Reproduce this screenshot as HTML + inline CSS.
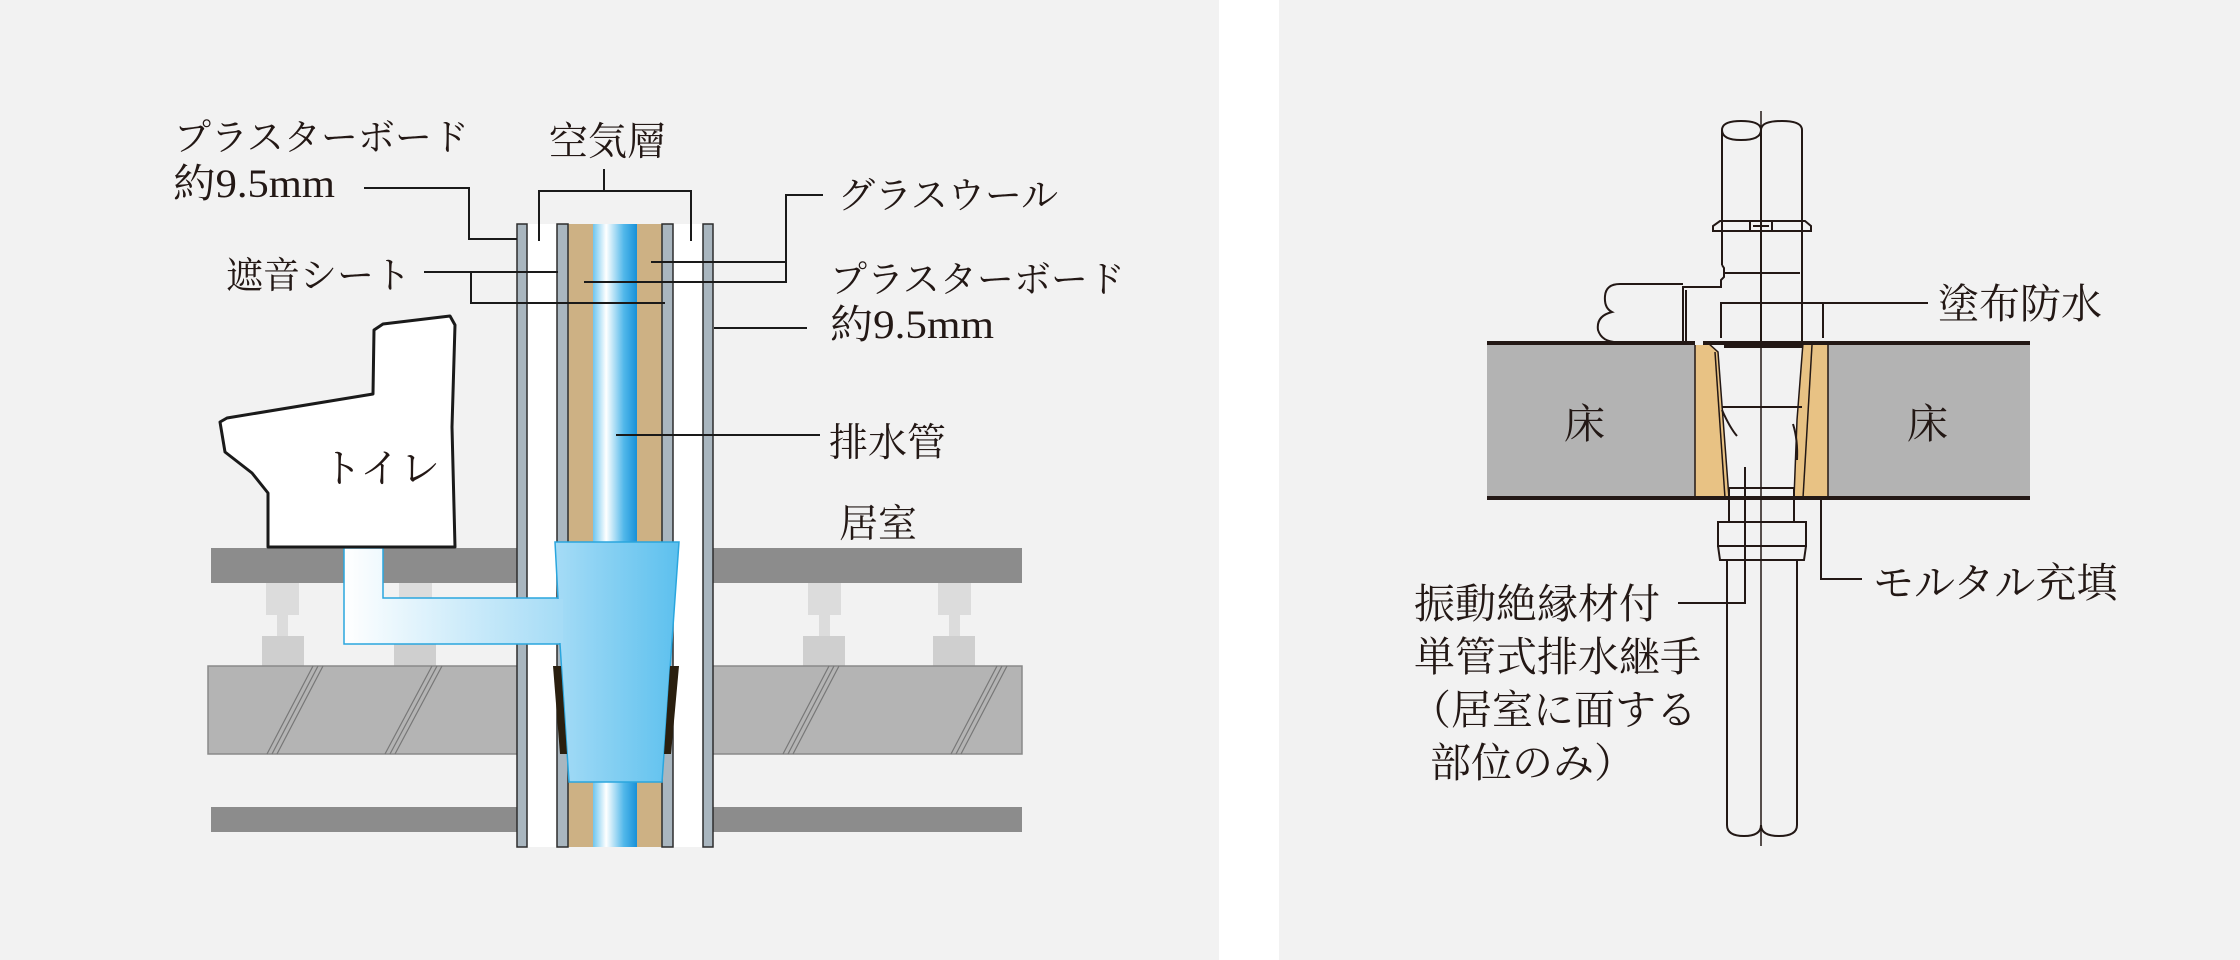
<!DOCTYPE html>
<html><head><meta charset="utf-8"><style>
html,body{margin:0;padding:0;background:#fff;}
svg{display:block;}
text{font-family:"Liberation Serif","Noto Serif CJK SC",serif;fill:#231815;}
</style></head><body>
<svg width="2240" height="960" viewBox="0 0 2240 960" xmlns="http://www.w3.org/2000/svg">
<defs>
<linearGradient id="pipe" x1="0" x2="1" y1="0" y2="0">
<stop offset="0" stop-color="#6ec6ee"/><stop offset="0.3" stop-color="#ffffff"/><stop offset="0.7" stop-color="#52b8ea"/><stop offset="1" stop-color="#1890d8"/></linearGradient>
<linearGradient id="fit" x1="0" x2="1" y1="0" y2="0">
<stop offset="0" stop-color="#a6dcf6"/><stop offset="1" stop-color="#5cc0ee"/></linearGradient>
<linearGradient id="br" x1="344" x2="560" y1="0" y2="0" gradientUnits="userSpaceOnUse">
<stop offset="0" stop-color="#ffffff"/><stop offset="1" stop-color="#a6dcf6"/></linearGradient>
</defs>
<rect x="0" y="0" width="1219" height="960" fill="#f2f2f2"/>
<rect x="1219" y="0" width="60" height="960" fill="#ffffff"/>
<rect x="1279" y="0" width="961" height="960" fill="#f2f2f2"/>

<!-- LEFT DIAGRAM -->
<g fill="#dcdcdc">
<rect x="266" y="583" width="33" height="32"/><rect x="277" y="615" width="11" height="21"/>
<rect x="399" y="583" width="33" height="32"/><rect x="410" y="615" width="11" height="21"/>
<rect x="808" y="583" width="33" height="32"/><rect x="819" y="615" width="11" height="21"/>
<rect x="938" y="583" width="33" height="32"/><rect x="949" y="615" width="11" height="21"/>
</g>
<g fill="#cfcfcf">
<rect x="262" y="636" width="42" height="30"/><rect x="394" y="636" width="42" height="30"/>
<rect x="803" y="636" width="42" height="30"/><rect x="933" y="636" width="42" height="30"/>
</g>
<rect x="211" y="548" width="306" height="35" fill="#8c8c8c"/>
<rect x="713" y="548" width="309" height="35" fill="#8c8c8c"/>
<rect x="208" y="666" width="814" height="88" fill="#b4b4b4" stroke="#8a8a8a" stroke-width="1.5"/>
<g stroke="#777" stroke-width="1.2">
<line x1="267" y1="754" x2="313" y2="666"/><line x1="272" y1="754" x2="318" y2="666"/><line x1="277" y1="754" x2="323" y2="666"/>
<line x1="385" y1="754" x2="432" y2="666"/><line x1="390" y1="754" x2="437" y2="666"/><line x1="395" y1="754" x2="442" y2="666"/>
<line x1="783" y1="754" x2="829" y2="666"/><line x1="788" y1="754" x2="834" y2="666"/><line x1="793" y1="754" x2="839" y2="666"/>
<line x1="951" y1="754" x2="997" y2="666"/><line x1="956" y1="754" x2="1002" y2="666"/><line x1="961" y1="754" x2="1007" y2="666"/>
</g>
<rect x="211" y="807" width="306" height="25" fill="#8c8c8c"/>
<rect x="713" y="807" width="309" height="25" fill="#8c8c8c"/>
<rect x="527" y="224" width="176" height="623" fill="#ffffff"/>
<rect x="568" y="224" width="25" height="623" fill="#cdb184"/>
<rect x="637" y="224" width="25" height="623" fill="#cdb184"/>
<rect x="593" y="224" width="44" height="623" fill="url(#pipe)"/>
<g fill="#a9b6bf" stroke="#2d2d2d" stroke-width="1.5">
<rect x="517" y="224" width="10" height="623"/>
<rect x="557" y="224" width="11" height="623"/>
<rect x="662" y="224" width="11" height="623"/>
<rect x="703" y="224" width="10" height="623"/>
</g>
<path d="M344,548 L383,548 L383,598 L560,598 L560,644 L344,644 Z" fill="url(#br)" stroke="#2aa6de" stroke-width="1.5"/>
<polygon points="555,542 679,542 662,782 569,782 560,644 558,598" fill="url(#fit)" stroke="#2aa6de" stroke-width="1.5"/>
<rect x="383" y="599" width="180" height="44" fill="url(#br)"/>
<polygon points="553,666 561,666 567,754 560,754" fill="#2a1f0f"/>
<polygon points="670,666 679,666 671,754 664,754" fill="#2a1f0f"/>
<path d="M383,324 L450,316 L455,325 L452,427 L455,547 L268,547 L268,493 L252,473 L225,452 L220,422 L227,418 L373,394 L374,330 Z" fill="#fff" stroke="#1a1a1a" stroke-width="3" stroke-linejoin="round"/>
<text x="322" y="482" font-size="40">トイレ</text>
<g stroke="#1a1a1a" stroke-width="2" fill="none">
<polyline points="364,188 469,188 469,239 517,239"/>
<polyline points="539,241 539,191 691,191 691,241"/><line x1="604" y1="191" x2="604" y2="169"/>
<polyline points="823,195 786,195 786,282 584,282"/><line x1="786" y1="262" x2="651" y2="262"/>
<polyline points="424,272 471,272 471,303 665,303"/><line x1="471" y1="272" x2="558" y2="272"/>
<line x1="714" y1="328" x2="807" y2="328"/>
<line x1="616" y1="435" x2="820" y2="435"/>
</g>
<text x="174" y="150" font-size="37">プラスターボード</text>
<text x="173" y="197" font-size="40" textLength="162" lengthAdjust="spacingAndGlyphs">約9.5mm</text>
<text x="549" y="155" font-size="39">空気層</text>
<text x="838" y="208" font-size="37">グラスウール</text>
<text x="226" y="288" font-size="37">遮音シート</text>
<text x="830" y="292" font-size="37">プラスターボード</text>
<text x="830" y="338" font-size="40" textLength="164" lengthAdjust="spacingAndGlyphs">約9.5mm</text>
<text x="829" y="456" font-size="39">排水管</text>
<text x="839" y="537" font-size="39">居室</text>

<!-- RIGHT DIAGRAM -->
<rect x="1487" y="343" width="210" height="155" fill="#b3b3b3"/>
<rect x="1828" y="343" width="202" height="155" fill="#b3b3b3"/>
<polygon points="1695,343 1708,343 1718,352 1729,498 1695,498" fill="#e8c284" stroke="#231815" stroke-width="1.5"/>
<polygon points="1803,343 1828,343 1828,498 1794,498 1797,420" fill="#e8c284" stroke="#231815" stroke-width="1.5"/>
<line x1="1715" y1="352" x2="1725" y2="498" stroke="#231815" stroke-width="1.5"/>
<line x1="1812" y1="345" x2="1803" y2="498" stroke="#231815" stroke-width="1.5"/>
<line x1="1487" y1="343" x2="2030" y2="343" stroke="#231815" stroke-width="4"/>
<line x1="1487" y1="498" x2="2030" y2="498" stroke="#231815" stroke-width="4"/>
<rect x="1695" y="338" width="8" height="7" fill="#f2f2f2"/>
<line x1="1724" y1="345" x2="1803" y2="345" stroke="#231815" stroke-width="6"/>
<g stroke="#231815" stroke-width="2" fill="none">
<path d="M1722,265 L1722,130 Q1722,121 1741,121 Q1761,121 1761,130 L1761,345"/>
<path d="M1722,130 Q1722,140 1741,140 Q1761,140 1761,130"/>
<path d="M1761,130 Q1761,121 1782,121 Q1802,121 1802,130 L1802,345"/>
<polygon points="1713,231 1713,226 1720,221 1805,221 1811,226 1811,231"/>
<rect x="1750" y="221" width="22" height="10"/>
<line x1="1753" y1="226" x2="1769" y2="226"/>
<path d="M1722,265 L1724,268 L1724,277 L1721,280 L1721,287 L1683,287 L1683,343"/>
<line x1="1724" y1="273" x2="1800" y2="273"/>
<line x1="1686" y1="290" x2="1686" y2="343"/>
<path d="M1683,284 L1620,284 Q1606,284 1605,296 Q1604,308 1612,312 Q1596,316 1598,330 Q1602,343 1620,342 L1683,342"/>
<line x1="1722" y1="407" x2="1802" y2="407"/>
<path d="M1722,410 Q1730,428 1737,436"/>
<path d="M1793,424 Q1798,440 1797,460"/>
<line x1="1729" y1="488" x2="1794" y2="488"/>
<line x1="1729" y1="488" x2="1729" y2="522"/><line x1="1794" y1="488" x2="1794" y2="522"/>
<rect x="1718" y="522" width="88" height="24"/>
<polyline points="1718,546 1720,560 1804,560 1806,546"/>
<path d="M1727,560 L1727,825 Q1727,836 1744,836 Q1761,836 1761,825"/>
<path d="M1761,825 Q1761,836 1779,836 Q1797,836 1797,825 L1797,560"/>
<line x1="1761" y1="111" x2="1761" y2="846" stroke-width="1.5"/>
<polyline points="1721,338 1721,303 1928,303"/><line x1="1823" y1="303" x2="1823" y2="338"/>
<polyline points="1821,498 1821,579 1862,579"/>
<polyline points="1678,603 1745,603 1745,467"/>
</g>
<g font-size="41">
<text x="1564" y="438">床</text>
<text x="1907" y="438">床</text>
<text x="1938" y="318">塗布防水</text>
<text x="1873" y="597">モルタル充填</text>
<text x="1414" y="618">振動絶縁材付</text>
<text x="1414" y="671">単管式排水継手</text>
<text x="1410" y="724">（居室に面する</text>
<text x="1430" y="777">部位のみ）</text>
</g>
</svg>
</body></html>
